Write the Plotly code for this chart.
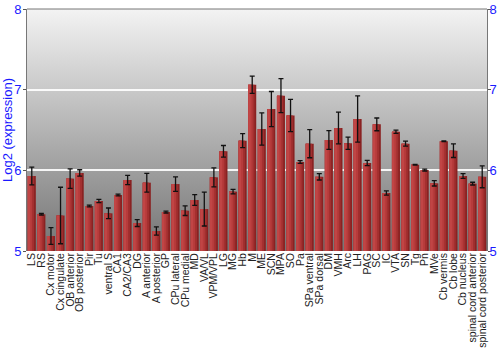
import base64
import plotly.graph_objects as go

categories = ["LS", "RS", "Cx motor", "Cx cingulate", "OB anterior", "OB posterior", "Pir", "Tu",
              "ventral S", "CA1", "CA2/CA3", "DG", "A anterior", "A posterior", "GP", "CPu lateral",
              "CPu medial", "MD", "VA/VL", "VPM/VPL", "LG", "MG", "Hb", "M", "ME", "SCN", "MPA", "SO",
              "Pa", "SPa ventral", "SPa dorsal", "DM", "VMH", "Arc", "LH", "PAG", "SC", "IC", "VTA",
              "SN", "Tg", "Pn", "MVe", "Cb vermis", "Cb lobe", "Cb nucleus", "spinal cord anterior",
              "spinal cord posterior"]
values = [5.93, 5.455, 5.186, 5.44, 5.897, 5.967, 5.558, 5.62, 5.467, 5.694, 5.88, 5.347, 5.847,
          5.248, 5.483, 5.83, 5.50, 5.632, 5.52, 5.913, 6.236, 5.736, 6.368, 7.062, 6.512, 6.76,
          6.926, 6.68, 6.103, 6.33, 5.92, 6.376, 6.525, 6.335, 6.636, 6.091, 6.57, 5.719, 6.479,
          6.33, 6.07, 6.004, 5.839, 6.36, 6.244, 5.93, 5.835, 5.92]
errors = [0.11, 0.01, 0.105, 0.35, 0.12, 0.04, 0.01, 0.02, 0.066, 0.01, 0.058, 0.043, 0.116,
          0.05, 0.012, 0.09, 0.06, 0.066, 0.21, 0.118, 0.072, 0.027, 0.087, 0.107, 0.2, 0.217,
          0.21, 0.2, 0.017, 0.174, 0.04, 0.116, 0.197, 0.076, 0.287, 0.033, 0.079, 0.027, 0.02,
          0.031, 0.005, 0.012, 0.033, 0.005, 0.085, 0.029, 0.017, 0.136]
y_ticks = [5, 6, 7, 8]

n = len(categories)
W = 0.84
fig = go.Figure()
strips = [(W, "#8a2222"), (0.66, "#a22f2f"), (0.46, "#b63b3b"), (0.26, "#c14545")]
for w, c in strips:
    fig.add_trace(go.Bar(x=categories, y=[v - 5 for v in values], base=5,
                         width=[w] * n, offset=[-W / 2] * n,
                         marker=dict(color=c, line=dict(width=0)),
                         hoverinfo="skip", showlegend=False))
fig.add_trace(go.Bar(x=categories, y=[v - 5 for v in values], base=5,
                     width=[W] * n, offset=[-W / 2] * n,
                     marker=dict(color="rgba(0,0,0,0)", line=dict(width=0)),
                     error_y=dict(type="data", array=errors, color="#111111",
                                  thickness=1.3, width=2.5),
                     showlegend=False))
fig.add_trace(go.Scatter(x=[categories[0]], y=[5], yaxis="y2", mode="markers",
                         marker=dict(opacity=0), showlegend=False, hoverinfo="skip"))

svg = ('<svg xmlns="http://www.w3.org/2000/svg" width="10" height="100" preserveAspectRatio="none">'
       '<defs><linearGradient id="g" x1="0" y1="0" x2="0" y2="1">'
       '<stop offset="0" stop-color="#f3f3f3"/><stop offset="1" stop-color="#747474"/>'
       '</linearGradient></defs><rect width="10" height="100" fill="url(#g)"/></svg>')
src = "data:image/svg+xml;base64," + base64.b64encode(svg.encode()).decode()

axis_font = dict(family="Liberation Sans, Arial", size=13, color="#1a1aff")
fig.update_layout(
    width=500, height=350,
    margin=dict(l=27, r=13, t=9, b=99, autoexpand=False),
    paper_bgcolor="white", plot_bgcolor="rgba(0,0,0,0)",
    barmode="overlay", bargap=0.16,
    font=dict(family="Liberation Sans, Arial"),
    images=[dict(source=src, xref="paper", yref="paper", x=0, y=1, sizex=1, sizey=1,
                 sizing="stretch", layer="below")],
    xaxis=dict(type="category", tickangle=-90, showgrid=False, showline=False, ticks="",
               tickmode="array", tickvals=categories, ticktext=categories, automargin=False,
               tickfont=dict(family="Liberation Sans, Arial", size=10.5, color="#222"),
               ticklabelstandoff=-1,
               range=[-0.5, n - 0.5], zeroline=False),
    yaxis=dict(range=[5, 8], tickvals=y_ticks, ticks="outside", ticklen=3, tickcolor="#555",
               showline=True, linecolor="#777", linewidth=1, tickfont=axis_font, automargin=False,
               ticklabelstandoff=-1,
               showgrid=True, gridcolor="rgba(255,255,255,0.9)", gridwidth=1.5, zeroline=False,
               title=dict(text="Log2 (expression)", font=dict(family="Liberation Sans, Arial", size=13, color="#1a1aff"), standoff=2)),
    yaxis2=dict(range=[5, 8], tickvals=y_ticks, overlaying="y", side="right", ticks="outside",
                ticklen=3, tickcolor="#555", showline=True, linecolor="#777", linewidth=1,
                ticklabelstandoff=-4,
                tickfont=axis_font, showgrid=False, zeroline=False, automargin=False),
    shapes=[dict(type="line", xref="paper", yref="paper", x0=0, x1=1, y0=1, y1=1,
                 line=dict(color="#777", width=1))],
)
fig.write_html("out.html")
